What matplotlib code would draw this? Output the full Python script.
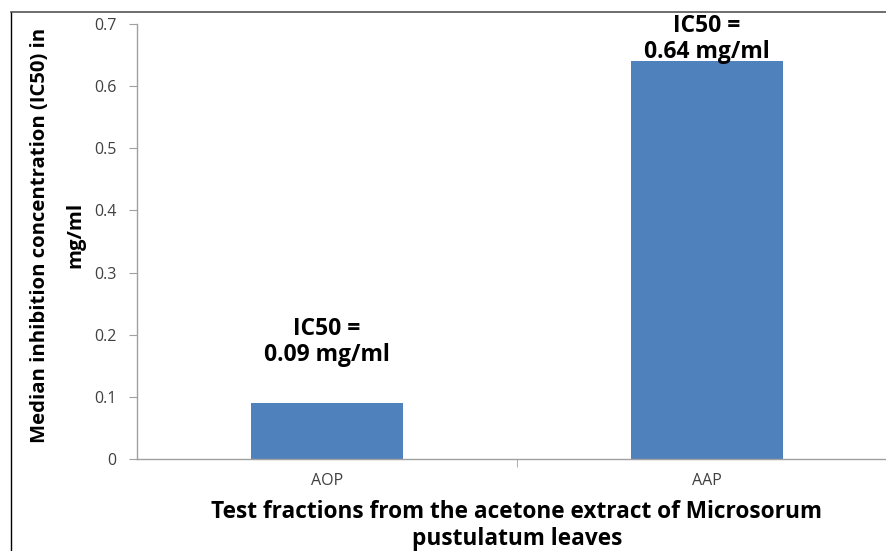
import matplotlib.pyplot as plt
from matplotlib.lines import Line2D

# data
fractions = ['AOP', 'AAP']
ic50 = [0.09, 0.64]
labels = ['IC50 =\n0.09 mg/ml', 'IC50 =\n0.64 mg/ml']

plt.rcParams['font.family'] = ['Open Sans', 'DejaVu Sans']

fig = plt.figure(figsize=(8.87, 5.51), dpi=100)
ax = fig.add_axes([0.1545, 0.167, 0.857, 0.7894])

x = range(len(fractions))
ax.bar(x, ic50, width=0.4, color='#4f81bd', zorder=2)

ax.set_xlim(-0.5, 1.5)
ax.set_ylim(0, 0.7)
ax.set_yticks([0, 0.1, 0.2, 0.3, 0.4, 0.5, 0.6, 0.7])
ax.set_yticklabels(['0', '0.1', '0.2', '0.3', '0.4', '0.5', '0.6', '0.7'])
ax.set_xticks(list(x))
ax.set_xticklabels(fractions)
ax.tick_params(axis='x', length=0, pad=10, labelsize=11.5, labelcolor='#404040')
ax.set_xticks([0.5], minor=True)
ax.tick_params(axis='x', which='minor', length=6, color='#a0a0a0', direction='out')
ax.tick_params(axis='y', length=6, color='#a0a0a0', labelsize=11.5,
               labelcolor='#404040', pad=9)

for side in ['top', 'right']:
    ax.spines[side].set_visible(False)
for side in ['left', 'bottom']:
    ax.spines[side].set_color('#a0a0a0')
    ax.spines[side].set_linewidth(1)

# gap between bar top and its label differs in the original
gaps = [0.058, -0.005]
for xi, v, lab, g in zip(x, ic50, labels, gaps):
    ax.text(xi, v + g, lab, ha='center', va='bottom', fontsize=16.5,
            fontweight='bold', linespacing=1.12, clip_on=False)

fig.text(517 / 887, 1 - 500 / 551,
         'Test fractions from the acetone extract of Microsorum\npustulatum leaves',
         ha='center', va='top', fontsize=16.3, fontweight='bold', linespacing=1.18)
fig.text(40 / 887, 1 - 235 / 551, 'Median inhibition concentration (IC50) in',
         rotation=90, ha='center', va='center', fontsize=14.6, fontweight='bold')
fig.text(75 / 887, 1 - 235 / 551, 'mg/ml',
         rotation=90, ha='center', va='center', fontsize=14.6, fontweight='bold')

# border around the chart area
fig.add_artist(Line2D([11 / 887, 11 / 887], [0, 1 - 12 / 551], color='black', lw=1))
fig.add_artist(Line2D([11 / 887, 1], [1 - 12 / 551, 1 - 12 / 551], color='#555555', lw=1.2))

fig.savefig('out.png', dpi=100)
